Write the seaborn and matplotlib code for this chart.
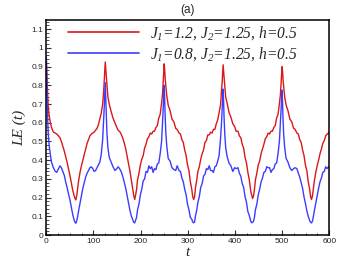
import matplotlib
matplotlib.use("Agg")
import matplotlib.pyplot as plt
import seaborn as sns
import pandas as pd
from matplotlib.ticker import MultipleLocator

# ---------------- data ----------------
t_start = [0, 1, 2, 3, 4, 6, 8, 11, 15, 19, 22, 26, 29, 32, 35, 38, 41, 44, 47, 50, 53, 56, 59, 61]
t_p1 = [62.5, 64.5, 66.5, 68.5, 71.5, 74.5, 77.5, 80.5, 83.5, 86.5, 89.5, 92.5, 95.5, 98.5, 101.5, 104.5,
        107.5, 110.5, 113.5, 116.5, 119.5, 121.5, 123, 124, 125, 126, 127, 128.5, 130.5, 133.5, 137.5,
        141.5, 145.5, 149.5, 152.5, 156.5, 159.5, 162.5, 165.5, 168.5, 171.5, 174.5, 177.5, 180.5, 183.5, 185.5]
t_p2 = [187.5, 189.5, 191.5, 193.5, 196.5, 199.5, 202.5, 205.5, 208.5, 211.5, 214.5, 217.5, 220.5, 223.5,
        226.5, 229.5, 232.5, 235.5, 238.5, 241.5, 244.5, 246.5, 248, 249, 250, 251, 252, 253.5, 255.5, 258.5,
        262.5, 266.5, 270.5, 274.5, 277.5, 281.5, 284.5, 287.5, 290.5, 293.5, 296.5, 299.5, 302.5, 305.5,
        308.5, 310.5]
t_p3 = [312.5, 314.5, 316.5, 318.5, 321.5, 324.5, 327.5, 330.5, 333.5, 336.5, 339.5, 342.5, 345.5, 348.5,
        351.5, 354.5, 357.5, 360.5, 363.5, 366.5, 369.5, 371.5, 373, 374, 375, 376, 377, 378.5, 380.5, 383.5,
        387.5, 391.5, 395.5, 399.5, 402.5, 406.5, 409.5, 412.5, 415.5, 418.5, 421.5, 424.5, 427.5, 430.5,
        433.5, 435.5]
t_p4 = [437.5, 439.5, 441.5, 443.5, 446.5, 449.5, 452.5, 455.5, 458.5, 461.5, 464.5, 467.5, 470.5, 473.5,
        476.5, 479.5, 482.5, 485.5, 488.5, 491.5, 494.5, 496.5, 498, 499, 500, 501, 502, 503.5, 505.5, 508.5,
        512.5, 516.5, 520.5, 524.5, 527.5, 531.5, 534.5, 537.5, 540.5, 543.5, 546.5, 549.5, 552.5, 555.5,
        558.5, 560.5]
t_end = [562.5, 564.5, 566.5, 568.5, 571.5, 574.5, 577.5, 580.5, 583.5, 586.5, 589.5, 592.5, 595.5, 598.5, 600]

red_start = [0.95, 0.87, 0.80, 0.74, 0.69, 0.64, 0.61, 0.575, 0.55, 0.545, 0.54, 0.53, 0.52, 0.50, 0.475,
             0.45, 0.42, 0.39, 0.355, 0.32, 0.28, 0.24, 0.21, 0.195]
red_p1 = [0.188, 0.21, 0.25, 0.29, 0.335, 0.37, 0.40, 0.43, 0.46, 0.49, 0.51, 0.53, 0.54, 0.545, 0.55, 0.56,
          0.57, 0.59, 0.62, 0.65, 0.70, 0.76, 0.83, 0.88, 0.925, 0.89, 0.85, 0.80, 0.74, 0.70, 0.66, 0.625,
          0.60, 0.575, 0.56, 0.55, 0.535, 0.515, 0.49, 0.46, 0.42, 0.38, 0.34, 0.29, 0.24, 0.21]
red_p2 = [0.19, 0.215, 0.245, 0.295, 0.33, 0.375, 0.405, 0.425, 0.465, 0.485, 0.515, 0.525, 0.545, 0.54,
          0.555, 0.555, 0.575, 0.585, 0.625, 0.645, 0.705, 0.755, 0.82, 0.87, 0.915, 0.885, 0.84, 0.795, 0.745,
          0.695, 0.665, 0.62, 0.605, 0.57, 0.565, 0.545, 0.54, 0.51, 0.495, 0.455, 0.425, 0.375, 0.345, 0.285,
          0.245, 0.205]
red_p3 = [0.19, 0.205, 0.255, 0.285, 0.34, 0.365, 0.405, 0.435, 0.455, 0.495, 0.505, 0.535, 0.535, 0.55,
          0.545, 0.565, 0.565, 0.595, 0.615, 0.655, 0.695, 0.765, 0.82, 0.87, 0.91, 0.88, 0.845, 0.795, 0.735,
          0.705, 0.655, 0.63, 0.595, 0.58, 0.555, 0.555, 0.53, 0.52, 0.485, 0.465, 0.415, 0.385, 0.335, 0.295,
          0.235, 0.215]
red_p4 = [0.195, 0.21, 0.245, 0.295, 0.33, 0.375, 0.395, 0.435, 0.46, 0.485, 0.515, 0.525, 0.545, 0.54,
          0.555, 0.555, 0.575, 0.585, 0.625, 0.645, 0.705, 0.75, 0.815, 0.86, 0.90, 0.875, 0.835, 0.79, 0.74,
          0.695, 0.665, 0.62, 0.605, 0.57, 0.565, 0.545, 0.54, 0.51, 0.495, 0.455, 0.425, 0.375, 0.345, 0.285,
          0.245, 0.205]
red_end = [0.19, 0.21, 0.25, 0.29, 0.335, 0.37, 0.40, 0.435, 0.46, 0.49, 0.505, 0.53, 0.54, 0.545, 0.55]

blue_start = [0.95, 0.82, 0.70, 0.61, 0.55, 0.48, 0.44, 0.39, 0.36, 0.34, 0.335, 0.355, 0.37, 0.36, 0.34,
              0.32, 0.285, 0.255, 0.22, 0.19, 0.15, 0.11, 0.08, 0.068]
blue_p1 = [0.063, 0.075, 0.10, 0.13, 0.17, 0.21, 0.25, 0.28, 0.31, 0.33, 0.345, 0.36, 0.365, 0.355, 0.34,
           0.345, 0.36, 0.375, 0.39, 0.43, 0.51, 0.61, 0.69, 0.75, 0.815, 0.74, 0.65, 0.55, 0.47, 0.415, 0.39,
           0.365, 0.345, 0.355, 0.365, 0.35, 0.335, 0.31, 0.28, 0.25, 0.21, 0.17, 0.13, 0.10, 0.08, 0.068]
blue_p2 = [0.065, 0.08, 0.095, 0.135, 0.165, 0.215, 0.245, 0.29, 0.30, 0.34, 0.335, 0.37, 0.355, 0.365,
           0.335, 0.355, 0.35, 0.38, 0.385, 0.435, 0.50, 0.60, 0.68, 0.74, 0.80, 0.73, 0.64, 0.545, 0.475,
           0.41, 0.395, 0.36, 0.35, 0.345, 0.37, 0.345, 0.34, 0.305, 0.285, 0.245, 0.215, 0.165, 0.135, 0.095,
           0.085, 0.07]
blue_p3 = [0.065, 0.07, 0.105, 0.125, 0.175, 0.205, 0.255, 0.275, 0.315, 0.325, 0.355, 0.35, 0.37, 0.345,
           0.345, 0.335, 0.365, 0.37, 0.395, 0.425, 0.515, 0.595, 0.67, 0.725, 0.78, 0.715, 0.63, 0.54, 0.465,
           0.42, 0.385, 0.37, 0.34, 0.36, 0.355, 0.36, 0.33, 0.315, 0.275, 0.255, 0.205, 0.175, 0.125, 0.105,
           0.075, 0.066]
blue_p4 = [0.068, 0.075, 0.095, 0.135, 0.165, 0.215, 0.245, 0.285, 0.305, 0.335, 0.34, 0.365, 0.36, 0.36,
           0.335, 0.35, 0.355, 0.38, 0.385, 0.435, 0.505, 0.60, 0.665, 0.72, 0.775, 0.71, 0.625, 0.535, 0.47,
           0.41, 0.39, 0.36, 0.345, 0.355, 0.36, 0.355, 0.33, 0.31, 0.28, 0.25, 0.205, 0.17, 0.13, 0.10,
           0.078, 0.068]
blue_end = [0.065, 0.075, 0.10, 0.13, 0.17, 0.21, 0.25, 0.285, 0.305, 0.335, 0.34, 0.365, 0.355, 0.365, 0.36]

labels = [r"$J_1$=1.2, $J_2$=1.25, $h$=0.5", r"$J_1$=0.8, $J_2$=1.25, $h$=0.5"]
colors = ["#d81818", "#3c3cff"]
x_ticks = [0, 100, 200, 300, 400, 500, 600]
y_ticks = [0, 0.1, 0.2, 0.3, 0.4, 0.5, 0.6, 0.7, 0.8, 0.9, 1, 1.1]

t_all = t_start + t_p1 + t_p2 + t_p3 + t_p4 + t_end
red_all = red_start + red_p1 + red_p2 + red_p3 + red_p4 + red_end
blue_all = blue_start + blue_p1 + blue_p2 + blue_p3 + blue_p4 + blue_end

df = pd.DataFrame({
    "t": t_all + t_all,
    "LE": red_all + blue_all,
    "series": [labels[0]] * len(t_all) + [labels[1]] * len(t_all),
})

# ---------------- style ----------------
sns.set_style("ticks")
plt.rcParams["font.family"] = ["Liberation Sans", "DejaVu Sans"]
plt.rcParams["mathtext.fontset"] = "custom"
plt.rcParams["mathtext.it"] = "Liberation Serif:italic"
plt.rcParams["mathtext.rm"] = "Liberation Serif:italic"

fig = plt.figure(figsize=(3.38, 2.65), dpi=100)
ax = fig.add_axes([0.137, 0.113, 0.837, 0.812])

sns.lineplot(data=df, x="t", y="LE", hue="series", palette=colors, hue_order=labels,
             linewidth=1.0, ax=ax, sort=False, estimator=None)

ax.set_xlim(0, 600)
ax.set_ylim(0, 1.15)
ax.set_xticks(x_ticks)
ax.set_yticks(y_ticks)
ax.xaxis.set_minor_locator(MultipleLocator(25))
ax.yaxis.set_minor_locator(MultipleLocator(0.02))
ax.set_xticklabels([str(v) for v in x_ticks])
ax.set_yticklabels([f"{v:g}" for v in y_ticks])
ax.tick_params(axis="both", which="major", direction="in", length=3.5, width=0.8,
               labelsize=6, pad=2, color="#333333")
ax.tick_params(axis="both", which="minor", direction="in", length=1.8, width=0.6, color="#333333")
for s in ax.spines.values():
    s.set_linewidth(1.1)
    s.set_color("black")

serif_it = dict(family="Liberation Serif", style="italic")
ax.set_xlabel("t", fontsize=11, labelpad=1, **serif_it)
ax.set_ylabel("LE (t)", fontsize=11, labelpad=4, **serif_it)
ax.set_title("(a)", fontsize=8.5, pad=5, family="Liberation Sans")

leg = ax.legend(loc="upper left", bbox_to_anchor=(0.075, 0.982), frameon=False,
                handlelength=4.6, handletextpad=0.7, labelspacing=0.22, borderpad=0,
                borderaxespad=0, fontsize=11.2)
for txt in leg.get_texts():
    txt.set_fontfamily("Liberation Serif")
    txt.set_fontstyle("italic")
for line in leg.get_lines():
    line.set_linewidth(1.2)

fig.savefig("out.png", dpi=100)
